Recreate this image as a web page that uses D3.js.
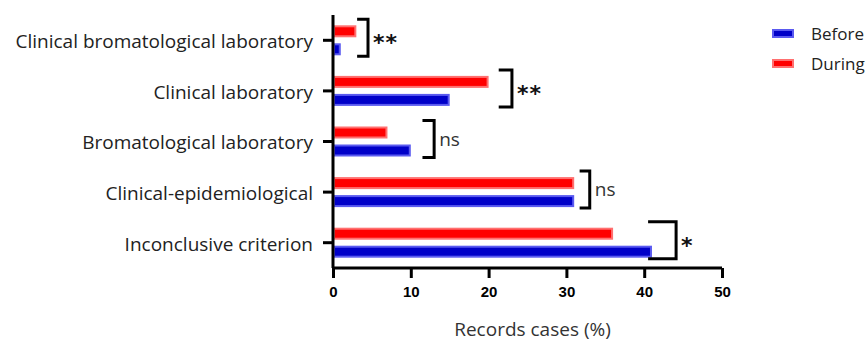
<!DOCTYPE html>
<html>
<head>
<meta charset="utf-8">
<script src="https://cdn.jsdelivr.net/npm/d3@7"></script>
<style>
  body { margin: 0; background: #fff; }
  svg { display: block; }
</style>
</head>
<body>
<div id="chart"></div>
<script>
const categories = [
  'Clinical bromatological laboratory',
  'Clinical laboratory',
  'Bromatological laboratory',
  'Clinical-epidemiological',
  'Inconclusive criterion'
];
const before = [1, 15, 10, 31, 41];
const during = [3, 20, 7, 31, 36];
const seriesNames = ['Before', 'During'];
const xTicks = [0, 10, 20, 30, 40, 50];
// significance brackets: [start, end] in % units, label
const bracketSpan = [[3.1, 4.5], [21.3, 23], [11.5, 13], [31.7, 33], [40.5, 44.1]];
const bracketLabels = ['**', '**', 'ns', 'ns', '*'];

const colors = {
  Before: { fill: '#0000c8', edge: '#5a5af0' },
  During: { fill: '#ff0000', edge: '#ff7070' }
};

const W = 866, H = 343;
const margin = { top: 15, right: 144, bottom: 75, left: 333 };
const width = W - margin.left - margin.right;
const height = H - margin.top - margin.bottom;
const labelFont = '"Open Sans", sans-serif';

const svg = d3.select('#chart').append('svg')
  .attr('width', W)
  .attr('height', H);

const g = svg.append('g')
  .attr('transform', 'translate(' + margin.left + ',' + margin.top + ')');

const x = d3.scaleLinear().domain([0, 50]).range([0, width]);
const y = d3.scaleBand().domain(categories).range([0, height]);
const inner = d3.scaleBand().domain(['During', 'Before'])
  .range([10.3, 40.3]).paddingInner(1 / 3);

const rows = categories.map((c, i) => ({
  cat: c, Before: before[i], During: during[i],
  span: bracketSpan[i], label: bracketLabels[i]
}));

// bars
const rowG = g.selectAll('.row').data(rows).enter().append('g')
  .attr('class', 'row')
  .attr('transform', d => 'translate(0,' + y(d.cat) + ')');

rowG.selectAll('rect').data(d => seriesNames.map(k => ({ key: k, value: d[k] })))
  .enter().append('rect')
  .attr('x', 1)
  .attr('y', d => inner(d.key) + 1)
  .attr('width', d => Math.max(0, x(d.value) - 2))
  .attr('height', inner.bandwidth() - 2)
  .attr('fill', d => colors[d.key].fill)
  .attr('stroke', d => colors[d.key].edge)
  .attr('stroke-width', 2);

// brackets
rowG.append('path')
  .attr('fill', 'none')
  .attr('stroke', '#000')
  .attr('stroke-width', 3)
  .attr('d', d => {
    const x0 = x(d.span[0]), x1 = x(d.span[1]);
    const t = y.bandwidth() / 2 - 21, b = y.bandwidth() / 2 + 16;
    return 'M' + x0 + ',' + t + 'H' + x1 + 'V' + b + 'H' + x0;
  });

rowG.append('text')
  .attr('x', d => x(d.span[1]) + (d.label === 'ns' ? 5 : 5))
  .attr('y', d => y.bandwidth() / 2 - 2)
  .attr('dy', d => d.label === 'ns' ? '0.32em' : '0.55em')
  .style('font-family', d => d.label === 'ns' ? labelFont : 'DejaVu Sans, sans-serif')
  .style('font-size', d => d.label === 'ns' ? '19px' : '22px')
  .style('font-weight', d => d.label === 'ns' ? 'normal' : 'bold')
  .style('letter-spacing', d => d.label === 'ns' ? '0px' : '1px')
  .attr('fill', d => d.label === 'ns' ? '#333' : '#111')
  .text(d => d.label);

// y axis
const yAxis = g.append('g')
  .call(d3.axisLeft(y).tickSize(10).tickPadding(10));
yAxis.select('.domain').attr('stroke-width', 3).attr('d', 'M0,0V' + height);
yAxis.selectAll('.tick line').attr('stroke-width', 3);
yAxis.selectAll('.tick text')
  .attr('dy', '0.42em')
  .style('font-family', labelFont)
  .style('font-size', '19px')
  .attr('fill', '#222');

// x axis
const xAxis = g.append('g')
  .attr('transform', 'translate(0,' + height + ')')
  .call(d3.axisBottom(x).tickValues(xTicks).tickSize(10).tickPadding(8));
xAxis.select('.domain').attr('stroke-width', 3).attr('d', 'M0,0H' + width);
xAxis.selectAll('.tick line').attr('stroke-width', 3);
xAxis.selectAll('.tick text')
  .style('font-family', 'Liberation Sans, Arial, sans-serif')
  .style('font-size', '15px')
  .style('font-weight', 'bold')
  .attr('fill', '#000');

g.append('text')
  .attr('x', width / 2 + 5)
  .attr('y', height + 68)
  .attr('text-anchor', 'middle')
  .style('font-family', labelFont)
  .style('font-size', '19px')
  .attr('fill', '#333')
  .text('Records cases (%)');

// legend
const legend = svg.append('g').attr('transform', 'translate(772,26)');
const li = legend.selectAll('g').data(seriesNames).enter().append('g')
  .attr('transform', (d, i) => 'translate(0,' + i * 30 + ')');
li.append('rect')
  .attr('x', 1).attr('y', 4)
  .attr('width', 20).attr('height', 7)
  .attr('fill', d => colors[d].fill)
  .attr('stroke', d => colors[d].edge)
  .attr('stroke-width', 2);
li.append('text')
  .attr('x', 39).attr('y', 8)
  .attr('dy', '0.35em')
  .style('font-family', labelFont)
  .style('font-size', '17px')
  .attr('fill', '#222')
  .text(d => d);
</script>
</body>
</html>
